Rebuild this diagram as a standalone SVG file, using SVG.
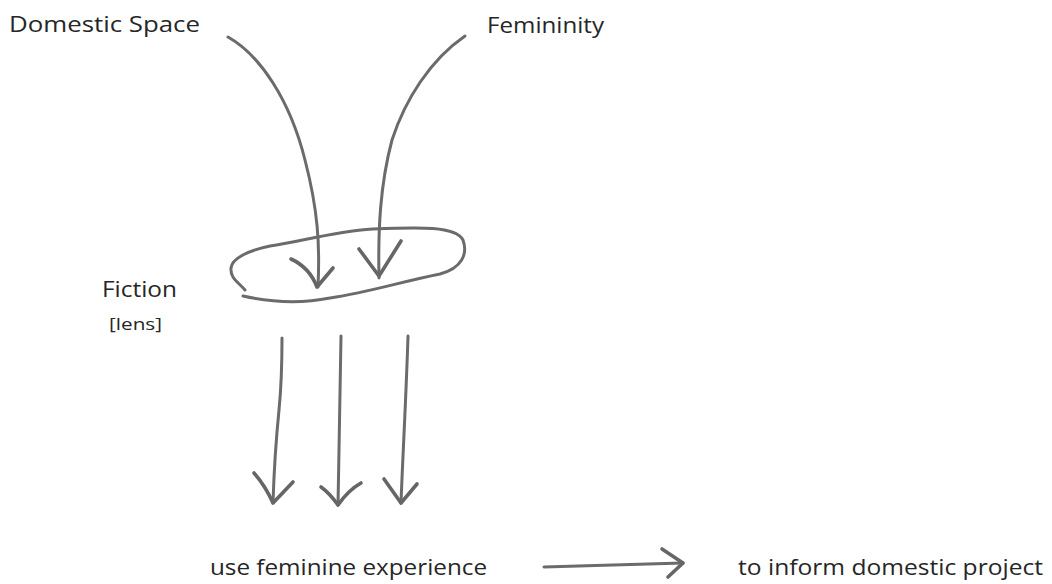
<svg xmlns="http://www.w3.org/2000/svg" width="1052" height="584" viewBox="0 0 1052 584">
<style>
.t{font-family:"Open Sans",Lato,sans-serif;fill:#262626;font-size:22px;font-variant-ligatures:none}
.s{font-family:"Open Sans",Lato,sans-serif;fill:#262626;font-size:17px}
.c{fill:none;stroke:#6b6b6b;stroke-width:3;stroke-linecap:round;stroke-linejoin:round}
.h{fill:none;stroke:#666;stroke-width:3.6;stroke-linecap:round;stroke-linejoin:round}
</style>
<rect width="1052" height="584" fill="#fff"/>
<g id="domestic-space"><text class="t" x="9" y="32" textLength="191" lengthAdjust="spacingAndGlyphs">Domestic Space</text></g>
<g id="femininity"><text class="t" x="487" y="33" textLength="117" lengthAdjust="spacingAndGlyphs">Femininity</text></g>
<g id="fiction">
<path class="c" d="M243,296 C270,302 300,304 330,298 C370,292 400,282 440,274 C462,268 468,254 463,240 C456,226 420,227 373,229 C330,232 300,242 270,246 C250,250 232,258 231,268 C230,278 238,282 245,290"/>
<text class="t" x="102" y="297" textLength="75" lengthAdjust="spacingAndGlyphs">Fiction</text>
<text class="s" x="109" y="330" textLength="53" lengthAdjust="spacingAndGlyphs">[lens]</text>
</g>
<g id="use-feminine"><text class="t" x="210" y="575" textLength="277" lengthAdjust="spacingAndGlyphs">use feminine experience</text></g>
<g id="inform"><text class="t" x="738" y="575" textLength="305" lengthAdjust="spacingAndGlyphs">to inform domestic project</text></g>
<g id="connectors">
<path class="c" d="M228,37 C260,55 290,100 305,160 C318,210 320,245 318,287"/>
<path class="h" d="M291,259 C302,264 312,274 317,287 L333,268"/>
<path class="c" d="M465,36 C430,60 405,100 392,140 C380,185 378,230 379,278"/>
<path class="h" d="M359,249 L379,276 L401,241"/>
<path class="c" d="M282,338 C282,370 281,390 279,410 C276,440 274,470 273,503"/>
<path class="h" d="M254,473 C262,482 268,492 273,503 L293,482"/>
<path class="c" d="M341,336 C340,400 339,450 338,505"/>
<path class="h" d="M321,487 C328,492 333,498 338,505 C345,495 352,488 361,483"/>
<path class="c" d="M408,336 C406,400 403,450 401,503"/>
<path class="h" d="M384,479 L401,503 L417,484"/>
<path class="c" d="M544,567 C590,566 640,564 683,563"/>
<path class="h" d="M662,549 L683,563 L668,577"/>
</g>
</svg>
